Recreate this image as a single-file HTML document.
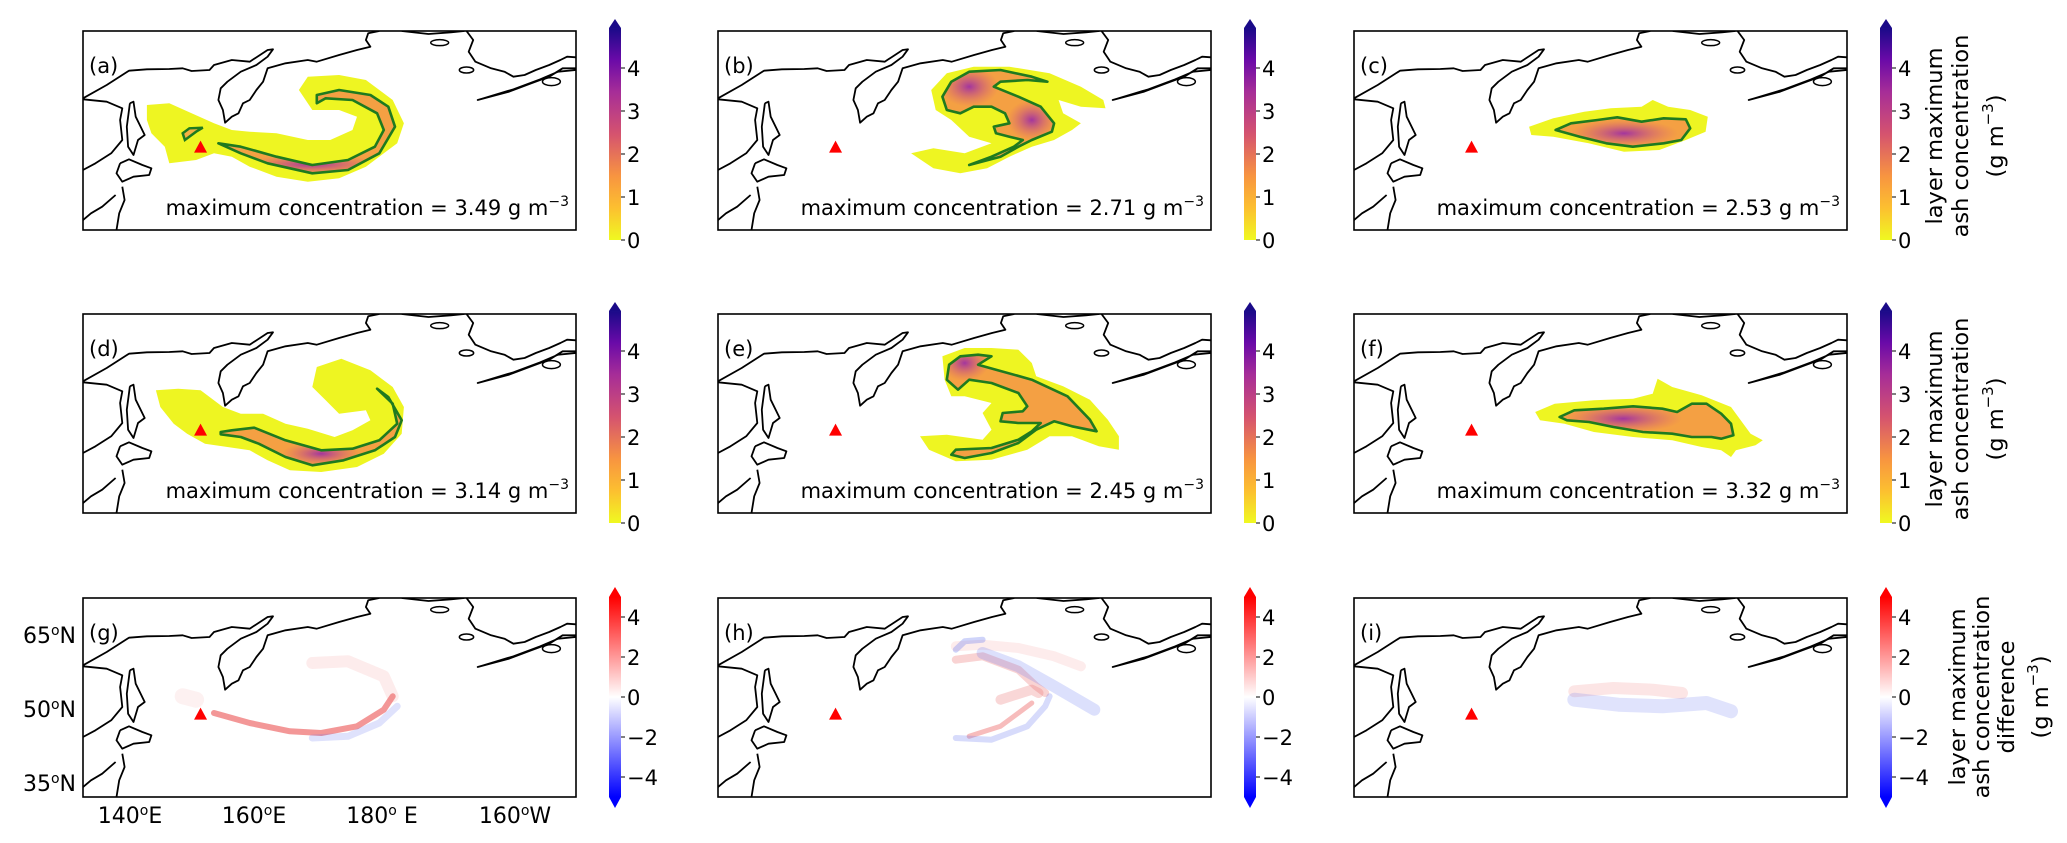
<!DOCTYPE html>
<html><head><meta charset="utf-8"><style>
html,body{margin:0;padding:0;background:#fff;}
svg{display:block;font-family:"DejaVu Sans","Liberation Sans",sans-serif;}
</style></head><body>
<svg id="fig" xmlns="http://www.w3.org/2000/svg" width="2067" height="843" viewBox="0 0 2067 843">
<defs>
<linearGradient id="plasma" x1="0" y1="1" x2="0" y2="0">
<stop offset="0" stop-color="#f0f921"/><stop offset="0.15" stop-color="#fcc030"/><stop offset="0.3" stop-color="#f89540"/><stop offset="0.5" stop-color="#d5536f"/><stop offset="0.7" stop-color="#a62d98"/><stop offset="0.85" stop-color="#6a0aa8"/><stop offset="1" stop-color="#1a0a88"/>
</linearGradient>
<linearGradient id="bwr" x1="0" y1="1" x2="0" y2="0">
<stop offset="0" stop-color="#0000ff"/><stop offset="0.5" stop-color="#ffffff"/><stop offset="1" stop-color="#ff0000"/>
</linearGradient>
<radialGradient id="hot"><stop offset="0" stop-color="#9a2aa8" stop-opacity="0.9"/><stop offset="1" stop-color="#d8557a" stop-opacity="0"/></radialGradient>
</defs>
<g id="root"></g>
</svg>
<script>
// ---- data ----
const panelIds = ['a','b','c','d','e','f','g','h','i'];
const maxConc = ['3.49','2.71','2.53','3.14','2.45','3.32'];
const concTicks = [0,1,2,3,4];
const diffTicks = [-4,-2,0,2,4];
const latLabels = ['65','50','35'];
const latY = [635,709,783];
const lonLabels = ['140ᵒE','160ᵒE','180ᵒ E','160ᵒW'];
const lonX = [130,254,382,515];
const volcano = [450,440];
// coastlines (digitised map coordinates)
const coastMain = [[187,295],[240,255],[290,212],[330,208],[380,207],[410,205],[430,213],[470,210],[480,195],[520,180],[560,185],[600,150],[612,148],[600,170],[575,195],[540,215],[510,245],[495,265],[490,300],[500,330],[505,368],[520,350],[535,340],[545,310],[560,300],[575,270],[590,245],[600,205],[640,190],[690,180],[710,185],[760,165],[800,150],[830,140],[820,120],[825,100],[850,93]];
const coastAk1 = [[900,93],[960,102],[1010,97],[1040,93]];
const coastAk2 = [[1045,93],[1060,120],[1050,155],[1065,185],[1100,205],[1130,215],[1150,230],[1175,225],[1200,210],[1230,195],[1255,180],[1270,170],[1290,172]];
const coastPen = [[1290,205],[1260,205],[1230,230],[1190,250],[1140,275],[1070,300],[1080,296],[1150,268],[1210,238],[1250,215],[1290,210]];
const coastAsia = [[187,298],[240,305],[275,325],[270,360],[275,420],[250,460],[215,490],[187,510]];
const coastSakh = [[292,310],[300,305],[305,350],[325,405],[310,420],[300,465],[288,440],[285,380],[292,310]];
const coastHok = [[270,490],[290,478],[320,495],[340,505],[335,525],[300,530],[275,545],[262,520],[270,490]];
const coastHon = [[275,560],[280,600],[268,640],[262,690]];
const coastKor = [[187,660],[205,640],[230,620],[260,585]];
const islands = [[985,128,10,3],[1045,210,8,3],[1235,245,10,4]];
// plume outlines
const yellowA = [[330,315],[380,310],[430,340],[480,370],[520,390],[560,395],[620,400],[690,420],[740,420],[790,390],[800,350],[760,330],[700,330],[670,270],[690,230],[760,225],[820,240],[880,300],[905,370],[890,430],[820,500],[760,535],[690,545],[620,530],[560,500],[520,470],[480,460],[440,480],[380,490],[370,440],[340,400],[330,360]];
const contourA = [[490,430],[540,440],[620,470],[700,495],[780,480],[840,440],[860,390],[845,340],[790,300],[730,295],[710,310],[710,285],[760,270],[830,285],[870,320],[885,380],[850,460],[780,510],[700,520],[600,490],[540,460]];
const loopA = [[410,400],[425,385],[455,383],[440,395],[415,420]];
const yellowB = [[565,270],[600,220],[660,200],[740,200],[830,220],[900,260],[950,300],[955,325],[900,320],[850,300],[860,340],[900,370],[880,390],[840,420],[790,440],[740,470],[690,505],[630,520],[570,505],[520,460],[570,445],[640,460],[700,430],[650,410],[610,360],[575,330]];
const contourB = [[590,290],[610,245],[650,215],[720,210],[790,230],[825,245],[780,240],[720,245],[705,260],[760,290],[810,320],[840,370],[835,395],[790,420],[760,440],[720,470],[650,495],[700,470],[750,440],[770,420],[740,410],[710,400],[705,380],[740,370],[730,340],[700,320],[660,320],[630,340],[600,330]];
const yellowC = [[345,380],[400,355],[470,335],[530,325],[600,320],[625,300],[660,320],[710,330],[750,350],[745,395],[700,420],[640,450],[560,455],[480,430],[400,410],[350,405]];
const contourC = [[405,390],[440,370],[500,360],[545,352],[600,365],[650,355],[700,358],[710,385],[690,420],[650,430],[580,440],[520,430],[460,410]];
const yellowD = [[350,330],[400,325],[450,330],[500,380],[540,400],[590,400],[640,430],[690,445],[750,470],[790,450],[830,420],[820,390],[760,400],[730,360],[700,320],[710,260],[765,235],[830,270],[880,320],[905,380],[900,460],[860,520],[800,560],[720,575],[650,570],[600,540],[560,510],[510,500],[460,490],[420,460],[390,430],[360,380]];
const contourD = [[495,455],[520,450],[570,442],[640,480],[720,510],[790,505],[850,480],[890,430],[880,370],[845,325],[870,350],[900,420],[885,470],[840,510],[770,540],[700,555],[640,530],[580,490],[540,470],[495,462]];
const yellowE = [[590,230],[640,205],[700,205],[760,210],[790,250],[800,290],[860,320],[920,360],[960,420],[985,470],[985,510],[940,500],[880,470],[830,470],[780,510],[700,540],[620,545],[560,510],[540,470],[600,465],[680,480],[700,450],[680,400],[700,370],[640,350],[610,350],[595,300]];
const contourE = [[600,300],[605,255],[630,230],[670,225],[700,230],[670,255],[710,270],[790,300],[870,350],[920,420],[935,455],[880,440],[840,425],[800,450],[760,490],[700,520],[640,535],[610,525],[620,510],[700,505],[760,480],[790,455],[810,430],[760,430],[720,425],[725,400],[770,395],[780,380],[760,340],[700,310],[650,300],[625,330]];
const yellowF = [[480,395],[520,370],[600,360],[680,355],[720,340],[730,295],[760,320],[820,345],[880,380],[920,460],[945,480],[930,495],[890,510],[880,530],[860,510],[820,500],[760,480],[680,470],[600,455],[540,430],[490,420]];
const contourF = [[530,410],[560,390],[620,385],[680,378],[740,385],[770,395],[800,370],[830,370],[860,400],[880,430],[885,465],[860,475],[840,470],[800,470],[760,460],[700,455],[640,440],[590,425],[545,420]];
const hotA=[[700,493,70,10]], hotB=[[650,260,30,20],[790,360,25,20]], hotC=[[560,400,55,14]], hotD=[[720,520,40,12]], hotE=[[640,250,25,18]], hotF=[[660,415,60,14]];
// difference bands: [points, colour, opacity, width]
const diffG = [[[[480,850],[560,880],[650,905],[720,910],[800,890],[860,840],[880,800]],'#e83030',0.5,6],[[[700,700],[780,695],[860,740],[880,800]],'#f08080',0.15,12],[[[700,925],[780,920],[850,880],[890,830]],'#6070f0',0.2,7],[[[410,800],[440,810]],'#f0a0a0',0.15,16]];
const diffH = [[[[620,260],[680,255],[760,265],[840,290],[900,320]],'#f08080',0.15,10],[[[620,300],[680,290],[760,330],[800,380],[820,400]],'#e85050',0.25,8],[[[720,420],[790,390],[805,400]],'#e86060',0.25,10],[[[650,530],[720,500],[760,460],[790,430]],'#e84040',0.35,5],[[[620,270],[640,245],[680,240]],'#6070f0',0.3,6],[[[680,280],[760,320],[840,380],[930,450]],'#6070f0',0.22,12],[[[620,535],[700,540],[780,500],[820,440],[830,410]],'#6070f0',0.25,6]];
const diffI = [[[[560,395],[640,385],[720,390],[780,400]],'#f08a8a',0.22,12],[[[560,420],[650,435],[740,440],[830,430],[880,455]],'#7080f0',0.22,14]];
</script>
<script>
const NS='http://www.w3.org/2000/svg';
const root=document.getElementById('root');
const lefts=[83,718,1354], tops=[31,314,598], PW=493, PH=199, cbX=[609,1244,1880];
function mk(tag,attrs,parent){const e=document.createElementNS(NS,tag);for(const k in attrs)e.setAttribute(k,attrs[k]);(parent||root).appendChild(e);return e;}
const xf={a:p=>p,b:p=>[p[0]+99,p[1]],c:p=>[p[0]*0.9875+238,p[1]],d:p=>[p[0],p[1]-8],e:p=>[p[0]+99,p[1]-10],f:p=>[187+(p[0]-110)*1.0954,p[1]-8],g:p=>[p[0],p[1]-412],h:p=>[p[0]+99,p[1]-22],i:p=>[187+(p[0]-110)*1.0954,p[1]-22]};
function px(L,T,p){return [L+(p[0]-187)/1103*PW, T+(p[1]-93)/597*PH];}
function pathOf(L,T,pts,close){return pts.map((p,k)=>{const q=px(L,T,p);return (k?'L':'M')+q[0].toFixed(1)+','+q[1].toFixed(1);}).join('')+(close?'Z':'');}

const plumes={a:[yellowA,contourA,hotA],b:[yellowB,contourB,hotB],c:[yellowC,contourC,hotC],d:[yellowD,contourD,hotD],e:[yellowE,contourE,hotE],f:[yellowF,contourF,hotF]};
const diffs={g:diffG,h:diffH,i:diffI};

panelIds.forEach((id,n)=>{
  const r=Math.floor(n/3), c=n%3, L=lefts[c], T=tops[r];
  const g=mk('g',{});
  
  
  const cp=mk('clipPath',{id:'clip'+id},g); mk('rect',{x:L,y:T,width:PW,height:PH},cp);
  const inner=mk('g',{'clip-path':'url(#clip'+id+')'},g);
  const t=xf[id];
  if(plumes[id]){
    const [yl,ct,hs]=plumes[id];
    const y=mk('path',{d:pathOf(L,T,yl.map(t),true),fill:'#eef522'},inner);
    
    
    const cid='cc'+id; const ccp=mk('clipPath',{id:cid},g); mk('path',{d:pathOf(L,T,ct.map(t),true)},ccp);
    const core=mk('path',{d:pathOf(L,T,ct.map(t),true),fill:'#f4a043'},inner);
    
    
    const hg=mk('g',{'clip-path':'url(#'+cid+')'},inner);
    hs.forEach(h=>{const q=px(L,T,t(h));mk('ellipse',{cx:q[0],cy:q[1],rx:h[2]*PW/1103*2.2,ry:h[3]*PH/597*3,fill:'url(#hot)'},hg);});
    if(id==='a'){mk('path',{d:pathOf(L,T,loopA,true),fill:'#f4b043',stroke:'#1f7a1f','stroke-width':2.5},inner);}
    const ln=mk('path',{d:pathOf(L,T,ct.map(t),true),fill:'none',stroke:'#1f7a1f','stroke-width':2.6,'stroke-linejoin':'round'},inner);
    
    
  } else {
    diffs[id].forEach(b=>{
      const s=mk('path',{d:pathOf(L,T,b[0].map(t),false),fill:'none',stroke:b[1],'stroke-opacity':b[2],'stroke-width':b[3],'stroke-linecap':'round','stroke-linejoin':'round'},inner);
      
      
    });
  }
  const coast=[coastMain,coastAk1,coastAk2,coastPen,coastAsia,coastSakh,coastHok,coastHon,coastKor];
  coast.forEach(cl=>{const p=mk('path',{d:pathOf(L,T,cl,false),fill:'none',stroke:'#000','stroke-width':1.8,'stroke-linejoin':'round'},inner);
    
    });
  islands.forEach(s=>{const q=px(L,T,s);mk('ellipse',{cx:q[0],cy:q[1],rx:s[2]*PW/1103*2,ry:s[3],fill:'none',stroke:'#000','stroke-width':1.5},inner);});
  const v=px(L,T,volcano);
  const tri=mk('path',{d:`M${v[0]},${v[1]-6}L${v[0]+6.5},${v[1]+6}L${v[0]-6.5},${v[1]+6}Z`,fill:'#ff0000'},g);
  
  
  const fr=mk('rect',{x:L,y:T,width:PW,height:PH,fill:'none',stroke:'#000','stroke-width':1.6},g);
  
  
  const lb=mk('text',{x:L+6,y:T+42,'font-size':21},g); lb.textContent='('+id+')';
  
  
  if(n<6){
    const tx=mk('text',{x:L+PW-7,y:T+PH-15,'font-size':21,'text-anchor':'end'},g);
    
    
    tx.appendChild(document.createTextNode('maximum concentration = '+maxConc[n]+' g m'));
    const sp=mk('tspan',{dy:-9,'font-size':14},tx); sp.textContent='−3';
  }
  const cx=cbX[c], W=12;
  const cb=mk('g',{});
  
  
  if(r<2){
    const z=240+r*283, u=43, top=z-4.93*u;
    mk('rect',{x:cx,y:top,width:W,height:z-top,fill:'url(#plasma)'},cb);
    mk('path',{d:`M${cx},${top}L${cx+W/2},${top-9}L${cx+W},${top}Z`,fill:'#1a0a88'},cb);
    concTicks.forEach(tv=>{const yy=z-tv*u;mk('line',{x1:cx+W,x2:cx+W+4,y1:yy,y2:yy,stroke:'#000','stroke-width':1},cb);
      const tl=mk('text',{x:cx+W+6,y:yy+8,'font-size':21},cb); tl.textContent=String(tv);});
  } else {
    const z=697, u=20;
    mk('rect',{x:cx,y:z-5*u,width:W,height:10*u,fill:'url(#bwr)'},cb);
    mk('path',{d:`M${cx},${z-5*u}L${cx+W/2},${z-5*u-10}L${cx+W},${z-5*u}Z`,fill:'#ff0000'},cb);
    mk('path',{d:`M${cx},${z+5*u}L${cx+W/2},${z+5*u+11}L${cx+W},${z+5*u}Z`,fill:'#0000ff'},cb);
    diffTicks.forEach(tv=>{const yy=z-tv*u;mk('line',{x1:cx+W,x2:cx+W+4,y1:yy,y2:yy,stroke:'#000','stroke-width':1},cb);
      const tl=mk('text',{x:cx+W+6,y:yy+8,'font-size':21},cb); tl.textContent=(tv<0?'−':'')+Math.abs(tv);});
  }
});
function vlabel(lines,xs,cy,name){
  const g=mk('g',{});
  
  
  lines.forEach((s,k)=>{const t=mk('text',{x:0,y:0,'font-size':22.5,'text-anchor':'middle','dominant-baseline':'central',transform:`translate(${xs[k]},${cy}) rotate(-90)`},g);
    if(s==='unit'){t.appendChild(document.createTextNode('(g m'));const sp=mk('tspan',{dy:-8,'font-size':15},t);sp.textContent='−3';const sp2=mk('tspan',{dy:8},t);sp2.textContent=')';}
    else t.textContent=s;});
}
vlabel(['layer maximum','ash concentration','unit'],[1935,1961,1996],136,'colorbar-title-row1');
vlabel(['layer maximum','ash concentration','unit'],[1935,1961,1996],419,'colorbar-title-row2');
vlabel(['layer maximum','ash concentration','difference','unit'],[1958,1982,2007,2041],697,'colorbar-title-row3');
latLabels.forEach((s,k)=>{const t=mk('text',{x:76,y:latY[k]+8,'font-size':22,'text-anchor':'end'});
  
  
  t.appendChild(document.createTextNode(s));const o=mk('tspan',{dy:-8,'font-size':14},t);o.textContent='o';const n2=mk('tspan',{dy:8},t);n2.textContent='N';});
lonLabels.forEach((s,k)=>{const t=mk('text',{x:lonX[k],y:823,'font-size':22,'text-anchor':'middle'});
  
  
  const m=s.split('ᵒ');t.appendChild(document.createTextNode(m[0]));const o=mk('tspan',{dy:-8,'font-size':14},t);o.textContent='o';const e2=mk('tspan',{dy:8},t);e2.textContent=m[1];});
</script>
</body></html>
